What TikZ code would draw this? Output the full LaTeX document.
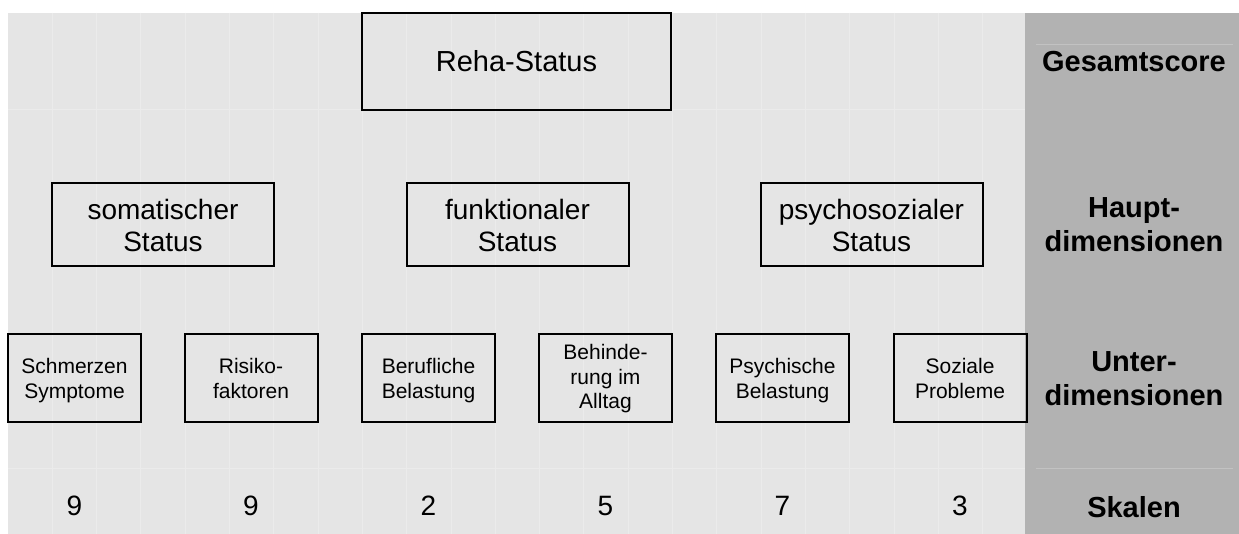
\documentclass[tikz,border=0pt]{standalone}
\usepackage{fontspec}
\setmainfont{Liberation Sans}
\definecolor{lightbg}{HTML}{E5E5E5}
\definecolor{darkbg}{HTML}{B2B2B2}
\definecolor{gridln}{HTML}{EBEBEB}
\definecolor{gridlndark}{HTML}{C2C2C2}
\newcommand\rsMidTop{\rule{0pt}{16.3pt}}
\newcommand\rsMidBot{\rule[-4.8pt]{0pt}{4.8pt}}
\newcommand\rsSubTop{\rule{0pt}{12pt}}
\newcommand\rsSubTopC{\rule{0pt}{10pt}}
\newcommand\rsSubBot{\rule[-3.7pt]{0pt}{3.7pt}}
\begin{document}
\begin{tikzpicture}[x=0.5pt,y=-0.5pt,
  box/.style={draw=black, line width=1pt, inner sep=0pt, align=center, text=black},
  topbox/.style={box, minimum width=154.5pt, minimum height=48.5pt, font=\fontsize{14.5}{17}\selectfont},
  midbox/.style={box, minimum width=111pt, minimum height=41.5pt, font=\fontsize{14}{16}\selectfont},
  subbox/.style={box, minimum width=66.5pt, minimum height=44pt, font=\fontsize{10.5}{12.35}\selectfont},
  num/.style={inner sep=0pt, font=\fontsize{14}{16}\selectfont},
  lbl/.style={inner sep=0pt, align=center, font=\fontsize{14.5}{17}\selectfont\bfseries},
  gridline/.style={draw=gridln, line width=0.5pt},
  gridlinedark/.style={draw=gridlndark, line width=0.5pt}
]
\useasboundingbox (0,0) rectangle (1239,534);
\fill[white] (0,0) rectangle (1239,534);
\fill[lightbg] (8,13) rectangle (1025,534);
\fill[darkbg] (1025,13) rectangle (1239,534);
% faint grid
\foreach \i in {1,...,22} {
  \draw[gridline] ({8+44.3*\i},13) -- ({8+44.3*\i},534);
}
\draw[gridline] (8,110) -- (1025,110);
\draw[gridline] (8,469) -- (1025,469);
\draw[gridlinedark] (1036,45) -- (1233,45);
\draw[gridlinedark] (1036,469) -- (1233,469);

% level 1
\node[topbox] (reha) at (516.5,61.5) {Reha-Status};
% level 2
\node[midbox] (som) at (163,224.5) {\rsMidTop somatischer\\Status\rsMidBot};
\node[midbox] (fun) at (517.5,224.5) {\rsMidTop funktionaler\\Status\rsMidBot};
\node[midbox] (psy) at (871.5,224.5) {\rsMidTop psychosozialer\\Status\rsMidBot};
% level 3
\node[subbox] (schm) at (74.5,378) {\rsSubTop Schmerzen\\Symptome\rsSubBot};
\node[subbox] (risk) at (251,378) {\rsSubTop Risiko-\\faktoren\rsSubBot};
\node[subbox] (beru) at (428.5,378) {\rsSubTop Berufliche\\Belastung\rsSubBot};
\node[subbox] (behi) at (605.5,378) {\rsSubTopC Behinde-\\rung im\\Alltag\rsSubBot};
\node[subbox] (psyb) at (782.5,378) {\rsSubTop Psychische\\Belastung\rsSubBot};
\node[subbox] (soz) at (960,378) {\rsSubTop Soziale\\Probleme\rsSubBot};
% scales
\node[num] (n1) at (74.5,506) {9};
\node[num] (n2) at (251,506) {9};
\node[num] (n3) at (428.5,506) {2};
\node[num] (n4) at (605.5,506) {5};
\node[num] (n5) at (782.5,506) {7};
\node[num] (n6) at (960,506) {3};
% right labels
\node[lbl] (l1) at (1134,62) {Gesamtscore};
\node[lbl] (l2) at (1134,228) {\strut Haupt-\\dimensionen\strut};
\node[lbl] (l3) at (1134,382) {\strut Unter-\\dimensionen\strut};
\node[lbl] (l4) at (1134,507) {Skalen};
\end{tikzpicture}
\end{document}
